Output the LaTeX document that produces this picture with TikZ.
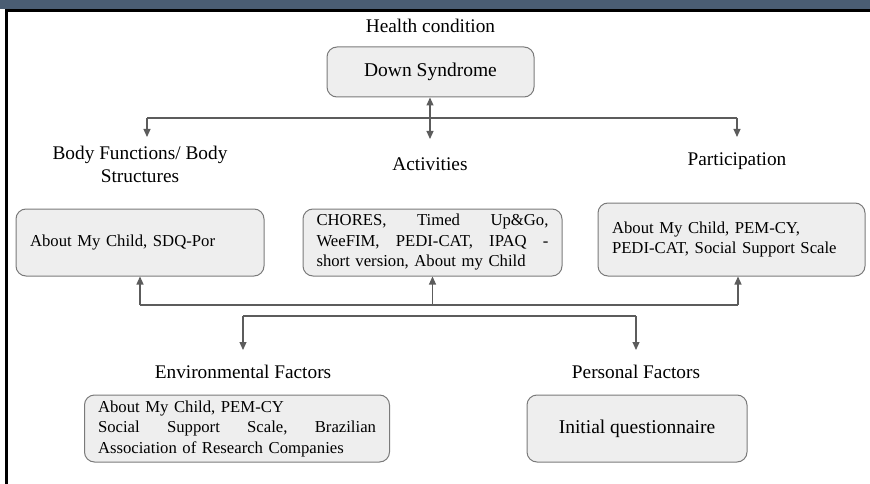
\documentclass[tikz,border=0pt]{standalone}
\usepackage{fontspec}
\setmainfont{Liberation Serif}
\usepackage{tikz}
\usetikzlibrary{arrows.meta,positioning}
\definecolor{barblue}{HTML}{4A5D73}
\definecolor{boxgray}{HTML}{EEEEEE}
\definecolor{edgegray}{HTML}{7A7A7A}
\definecolor{linegray}{HTML}{5C5C5C}
\tikzset{
  measurebox/.style={draw=edgegray,rounded corners=10pt,fill=boxgray,line width=1pt,minimum height=67pt,inner xsep=13.5pt,font=\fontsize{16.7}{20.5}\selectfont},
  headlabel/.style={align=center,inner sep=0pt,font=\fontsize{19.3}{23}\selectfont},
  bigtext/.style={font=\fontsize{19.5}{23}\selectfont},
  flow/.style={-{Triangle[length=8pt,width=7pt]},line width=1.1pt,draw=linegray},
  flowboth/.style={{Triangle[length=8pt,width=7pt]}-{Triangle[length=8pt,width=7pt]},line width=1.1pt,draw=linegray},
  treeline/.style={line width=1.1pt,draw=linegray},
}

\begin{document}
\begin{tikzpicture}[x=1pt,y=-1pt]
    \useasboundingbox (0,0) rectangle (870,484);
    % frame of the screenshot
    \fill[barblue] (0,0) rectangle (870,9);
    \draw[line width=3pt] (6.5,484) -- (6.5,10.5) -- (870,10.5);

    % health condition
    \node[headlabel] (hc) at (430.5,26) {Health condition};
    \node[measurebox,bigtext,minimum width=207pt,minimum height=50pt] (ds) at (430.5,72) {Down Syndrome};

    % components
    \node[headlabel] (bflab) at (140,164.5) {Body Functions/ Body\\Structures};
    \node[headlabel] (actlab) at (430,164) {Activities};
    \node[headlabel] (partlab) at (737,161) {Participation};

    \node[measurebox,minimum width=248pt,text width=220pt,align=left] (bf) at (140,242.5) {About My Child, SDQ-Por};
    \node[measurebox,minimum width=259pt,text width=232pt,align=left] (act) at (432.5,242.5)
      {CHORES,\hfill Timed\hfill Up\&Go,\\WeeFIM,\hfill PEDI-CAT,\hfill IPAQ\hfill -\\short version, About my Child};
    \node[measurebox,minimum width=267pt,minimum height=73pt,text width=239pt,align=left] (part) at (731.5,239.5)
      {About My Child, PEM-CY,\\PEDI-CAT, Social Support Scale};

    % contextual factors
    \node[headlabel] (envlab) at (243,372) {Environmental Factors};
    \node[headlabel] (perlab) at (636,372) {Personal Factors};

    \node[measurebox,minimum width=304pt,text width=278pt,align=left] (env) at (237,428.5)
      {About My Child, PEM-CY\\Social\hfill Support\hfill Scale,\hfill Brazilian\\Association of Research Companies};
    \node[measurebox,bigtext,minimum width=220pt] (per) at (637,428.5) {Initial questionnaire};

    % top connectors
    \coordinate (bfin) at (147,137);
    \coordinate (actin) at (430,139);
    \coordinate (partin) at (737,137);
    \coordinate (topbus) at (0,118);
    \draw[flowboth] (ds.south -| actin) -- (actin);
    \draw[treeline] (bfin |- topbus) -- (partin |- topbus);
    \draw[flow] (bfin |- topbus) -- (bfin);
    \draw[flow] (partin |- topbus) -- (partin);

    % middle connectors
    \coordinate (midbus) at (0,305);
    \coordinate (partbus) at (738,305);
    \draw[treeline] (bf.south |- midbus) -- (partbus);
    \draw[flow] (bf.south |- midbus) -- (bf.south);
    \draw[flow] (act.south |- midbus) -- (act.south);
    \draw[flow] (partbus) -- (partbus |- part.south);

    % lower connectors
    \coordinate (envin) at (243,350);
    \coordinate (perin) at (636,350);
    \coordinate (lowbus) at (0,316);
    \draw[treeline] (envin |- lowbus) -- (perin |- lowbus);
    \draw[flow] (envin |- lowbus) -- (envin);
    \draw[flow] (perin |- lowbus) -- (perin);
  \end{tikzpicture}
\end{document}
